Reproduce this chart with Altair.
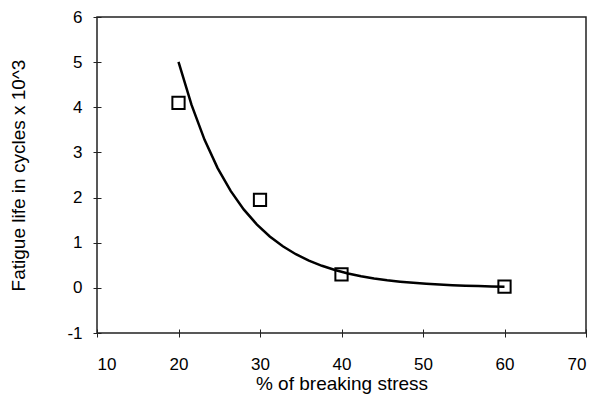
import altair as alt
import pandas as pd

# Data
stress_pct = [20, 30, 40, 60]
fatigue_life = [4.1, 1.95, 0.3, 0.025]

x_ticks = [10, 20, 30, 40, 50, 60, 70]
y_ticks = [-1, 0, 1, 2, 3, 4, 5, 6]

df = pd.DataFrame({"x": stress_pct, "y": fatigue_life})

FONT = "Liberation Sans"

x_enc = alt.X(
    "x:Q",
    scale=alt.Scale(domain=[10, 70], nice=False),
    axis=alt.Axis(
        values=x_ticks,
        labelExpr="'' + datum.value",
        title="% of breaking stress",
        domain=False,
        grid=False,
        offset=-4,
        tickSize=8,
        tickColor="#222222",
        labelPadding=19,
        titleY=45,
        titleFontSize=19,
    ),
)

y_axis = alt.Axis(
    values=y_ticks,
    labelExpr="'' + datum.value",
    title="Fatigue life in cycles x 10^3",
    domain=False,
    grid=False,
    offset=-4,
    tickSize=8,
    tickColor="#222222",
    labelPadding=11,
    titleX=-73,
    titleFontSize=19,
)

base = alt.Chart(df)

points = base.mark_point(
    shape="square", size=150, filled=False, stroke="black", strokeWidth=2, opacity=1
).encode(
    x=x_enc,
    y=alt.Y("y:Q", scale=alt.Scale(domain=[-1, 6], nice=False), axis=y_axis),
)

# Exponential trendline: least squares fit of log(y) on x, back-transformed
trend = (
    base.transform_calculate(ly="log(datum.y)")
    .transform_regression("x", "ly", method="poly", order=1, extent=[20, 60])
    .transform_calculate(yfit="exp(datum.ly)")
    .mark_line(color="black", strokeWidth=2.5)
    .encode(
        x=alt.X("x:Q"),
        y=alt.Y("yfit:Q"),
    )
)

chart = (
    alt.layer(trend, points)
    .properties(
        width=489,
        height=316,
        autosize=alt.AutoSizeParams(type="none"),
        padding={"left": 89, "top": 9, "right": 15, "bottom": 63},
        background="white",
    )
    .configure_view(stroke="#222222", strokeWidth=1.5)
    .configure_axis(
        labelFont=FONT,
        titleFont=FONT,
        labelFontSize=17,
        labelColor="black",
        titleColor="black",
        titleFontWeight="normal",
    )
)

chart.save("out.html", embed_options={"renderer": "svg", "actions": False})
